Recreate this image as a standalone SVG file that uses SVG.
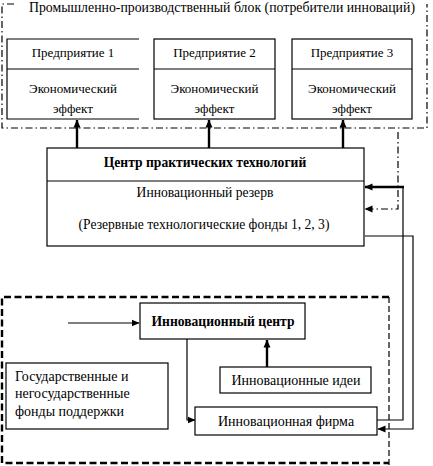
<svg xmlns="http://www.w3.org/2000/svg" width="433" height="466" viewBox="0 0 433 466" font-family="Liberation Serif, Times New Roman, DejaVu Serif, serif">
<defs>
<marker id="ah" viewBox="0 0 8 8" refX="7.5" refY="4" markerWidth="8" markerHeight="8" markerUnits="userSpaceOnUse" orient="auto">
<path d="M0,0.5 L8,4 L0,7.5 Z" fill="#000"/>
</marker>
</defs>
<style>
text{font-family:'Liberation Serif','Times New Roman','DejaVu Serif',serif;font-size:13px;fill:#000}
.c{text-anchor:middle}
.b{font-weight:bold}
.t{font-size:13.8px}
.m{font-size:13.6px}
.l{font-size:14px}
.box{fill:#fff;stroke:#000;stroke-width:1.2}
.ln{fill:none;stroke:#000;stroke-width:1.2}
.thick{fill:none;stroke:#000;stroke-width:2.4}
.dd{fill:none;stroke:#000;stroke-width:1.2;stroke-dasharray:7 3 1.5 3}
.dsh{fill:none;stroke:#000;stroke-width:2.4;stroke-dasharray:7 3.5}
.dsh2{fill:none;stroke:#000;stroke-width:1.2;stroke-dasharray:6 3}
</style>

<g id="frame-top">
<path class="dd" d="M14,4 H2 V128 H427 V4"/>
<text x="222" y="12" class="c t">Промышленно-производственный блок (потребители инноваций)</text>
</g>

<g id="frame-bottom">
<path class="dsh" d="M389,297 H2 V463 H389"/>
<path class="dsh2" d="M389,297 V466"/>
</g>

<g id="enterprise1">
<path class="box" d="M139,39 H7 V119 H139"/>
<path class="ln" d="M7,69 H139"/>
<text x="73" y="57" class="c">Предприятие 1</text>
<text x="73" y="93" class="c">Экономический</text>
<text x="73" y="113" class="c">эффект</text>
</g>

<g id="enterprise2">
<rect class="box" x="154" y="39" width="121" height="80"/>
<path class="ln" d="M154,69 H275"/>
<text x="214.5" y="57" class="c">Предприятие 2</text>
<text x="214.5" y="93" class="c">Экономический</text>
<text x="214.5" y="113" class="c">эффект</text>
</g>

<g id="enterprise3">
<rect class="box" x="292" y="39" width="120" height="80"/>
<path class="ln" d="M292,69 H412"/>
<text x="352" y="57" class="c">Предприятие 3</text>
<text x="352" y="93" class="c">Экономический</text>
<text x="352" y="113" class="c">эффект</text>
</g>

<g id="center">
<rect class="box" x="47" y="148" width="317" height="98"/>
<path class="ln" d="M47,181 H364"/>
<text x="205" y="167" class="c b m">Центр практических технологий</text>
<text x="205" y="197" class="c m">Инновационный резерв</text>
<text x="204" y="229" class="c m">(Резервные технологические фонды 1, 2, 3)</text>
</g>

<g id="innov-center">
<rect class="box" x="140" y="303" width="165" height="36"/>
<text x="223" y="326" class="c b m">Инновационный центр</text>
</g>

<g id="funds">
<rect class="box" x="6" y="363" width="162" height="66"/>
<text x="15" y="381" class="l">Государственные и</text>
<text x="15" y="398" class="l">негосударственные</text>
<text x="15" y="416" class="l">фонды поддержки</text>
</g>

<g id="ideas">
<rect class="box" x="220" y="367" width="151" height="26"/>
<text x="296" y="385" class="c l">Инновационные идеи</text>
</g>

<g id="firm">
<rect class="box" x="195" y="407" width="182" height="28"/>
<text x="286" y="426" class="c l">Инновационная фирма</text>
</g>

<g id="connectors">
<path class="thick" d="M77,148 V120" marker-end="url(#ah)"/>
<path class="thick" d="M209,148 V120" marker-end="url(#ah)"/>
<path class="thick" d="M343,148 V120" marker-end="url(#ah)"/>
<path class="thick" d="M404,187 H365" marker-end="url(#ah)"/>
<path class="ln" d="M403,187 V420 H377"/>
<path class="dd" d="M398,132 V209 H365" marker-end="url(#ah)"/>
<path class="ln" d="M365,236 H413 V429 H378" marker-end="url(#ah)"/>
<path class="ln" d="M68,323 H139" marker-end="url(#ah)"/>
<path class="ln" d="M187,339 V420 H195" marker-end="url(#ah)"/>
<path class="thick" d="M267,367 V340" marker-end="url(#ah)"/>
</g>
</svg>
